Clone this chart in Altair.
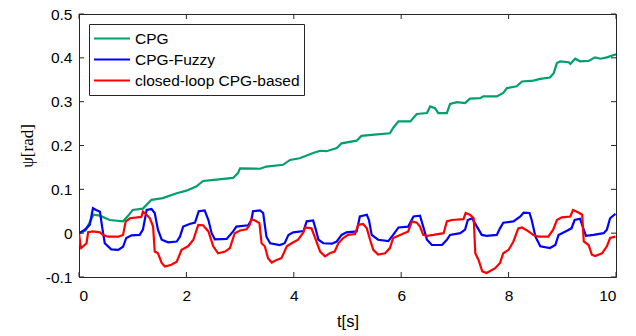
import altair as alt
import pandas as pd

# ---------------- data ----------------
series_names = ["CPG", "CPG-Fuzzy", "closed-loop CPG-based"]
series_colors = ["#00A06A", "#0000FF", "#FF0000"]

t_cpg = [0, 0.12, 0.22, 0.27, 0.39, 0.57, 0.82, 0.91, 1.0, 1.19,
         1.35, 1.56, 1.82, 2.0, 2.19, 2.31, 2.56, 2.87, 2.96, 3.0,
         3.37, 3.49, 3.80, 3.93, 4.11, 4.36, 4.49, 4.61, 4.80, 4.89,
         5.17, 5.26, 5.50, 5.79, 5.85, 5.95, 6.17, 6.29, 6.48, 6.54,
         6.63, 6.69, 6.85, 6.91, 7.04, 7.19, 7.28, 7.47, 7.53, 7.78,
         7.90, 7.97, 8.15, 8.25, 8.46, 8.59, 8.77, 8.84, 8.90, 8.96,
         9.12, 9.15, 9.24, 9.33, 9.49, 9.61, 9.71, 9.83, 10.0]
y_cpg = [0.0, 0.006, 0.03, 0.042, 0.040, 0.030, 0.027, 0.039, 0.053, 0.056,
         0.076, 0.080, 0.091, 0.097, 0.107, 0.119, 0.122, 0.126, 0.137, 0.148,
         0.147, 0.152, 0.156, 0.167, 0.171, 0.183, 0.188, 0.187, 0.194, 0.205,
         0.211, 0.222, 0.225, 0.228, 0.240, 0.255, 0.255, 0.272, 0.274, 0.289,
         0.285, 0.274, 0.274, 0.295, 0.299, 0.297, 0.307, 0.308, 0.312, 0.312,
         0.320, 0.331, 0.335, 0.346, 0.348, 0.352, 0.355, 0.365, 0.388, 0.392,
         0.390, 0.386, 0.398, 0.392, 0.393, 0.401, 0.398, 0.401, 0.408]

t_fuzzy = [0, 0.11, 0.20, 0.26, 0.32, 0.39, 0.43, 0.48, 0.60, 0.73,
           0.82, 0.88, 0.98, 1.13, 1.19, 1.26, 1.35, 1.41, 1.47, 1.54,
           1.66, 1.82, 1.88, 1.94, 2.06, 2.16, 2.23, 2.34, 2.41, 2.47,
           2.53, 2.75, 2.87, 2.93, 3.15, 3.21, 3.24, 3.37, 3.43, 3.49,
           3.56, 3.74, 3.83, 3.90, 3.99, 4.18, 4.24, 4.36, 4.41, 4.46,
           4.55, 4.71, 4.80, 4.89, 4.98, 5.17, 5.23, 5.36, 5.40, 5.45,
           5.57, 5.76, 5.85, 5.95, 6.13, 6.23, 6.35, 6.41, 6.48, 6.57,
           6.76, 6.85, 6.91, 7.10, 7.19, 7.24, 7.32, 7.41, 7.50, 7.59,
           7.78, 7.84, 7.90, 8.09, 8.22, 8.28, 8.39, 8.43, 8.50, 8.59,
           8.77, 8.87, 8.93, 9.06, 9.17, 9.23, 9.33, 9.38, 9.44, 9.58,
           9.77, 9.83, 9.89, 9.99]
y_fuzzy = [0.0, 0.008, 0.019, 0.057, 0.053, 0.049, 0.015, -0.023, -0.037, -0.038,
           -0.031, -0.011, -0.005, -0.004, 0.008, 0.053, 0.055, 0.046, 0.008, -0.015,
           -0.021, -0.019, -0.008, 0.015, 0.021, 0.024, 0.050, 0.052, 0.030, 0.0,
           -0.014, -0.013, 0.004, 0.015, 0.018, 0.030, 0.050, 0.052, 0.046, -0.008,
           -0.023, -0.027, -0.023, -0.004, 0.002, 0.005, 0.027, 0.029, 0.008, -0.015,
           -0.023, -0.024, -0.019, -0.004, 0.002, 0.004, 0.038, 0.042, 0.030, -0.004,
           -0.015, -0.018, -0.004, 0.013, 0.015, 0.038, 0.040, 0.015, -0.015, -0.027,
           -0.027, -0.015, -0.004, 0.0, 0.008, 0.030, 0.034, 0.015, -0.004, -0.006,
           -0.004, 0.011, 0.024, 0.027, 0.038, 0.047, 0.046, 0.030, -0.008, -0.030,
           -0.034, -0.027, -0.004, 0.004, 0.011, 0.030, 0.033, 0.015, -0.006, -0.004,
           0.0, 0.008, 0.034, 0.044]

t_closed = [0, 0.03, 0.04, 0.14, 0.17, 0.26, 0.39, 0.45, 0.54, 0.73,
            0.82, 0.87, 0.95, 1.16, 1.19, 1.26, 1.32, 1.38, 1.41, 1.47,
            1.54, 1.60, 1.72, 1.82, 1.91, 2.03, 2.13, 2.22, 2.31, 2.41,
            2.50, 2.59, 2.72, 2.81, 2.90, 3.00, 3.12, 3.18, 3.21, 3.28,
            3.36, 3.40, 3.46, 3.52, 3.59, 3.68, 3.77, 3.87, 3.96, 4.08,
            4.18, 4.21, 4.33, 4.41, 4.49, 4.58, 4.67, 4.76, 4.83, 4.92,
            5.01, 5.14, 5.20, 5.29, 5.36, 5.42, 5.48, 5.57, 5.70, 5.79,
            5.85, 5.98, 6.13, 6.20, 6.29, 6.35, 6.41, 6.48, 6.60, 6.79,
            6.85, 6.94, 7.16, 7.20, 7.28, 7.35, 7.38, 7.44, 7.51, 7.59,
            7.75, 7.84, 7.90, 8.00, 8.09, 8.18, 8.25, 8.37, 8.46, 8.56,
            8.74, 8.83, 8.90, 8.99, 9.15, 9.20, 9.30, 9.37, 9.40, 9.49,
            9.55, 9.61, 9.74, 9.83, 9.89, 9.99]
y_closed = [0.0, -0.03, -0.034, -0.023, 0.002, 0.004, 0.002, -0.004, -0.008, -0.008,
            -0.004, 0.027, 0.034, 0.037, 0.049, 0.042, 0.034, 0.015, -0.042, -0.046,
            -0.068, -0.076, -0.072, -0.065, -0.038, -0.030, -0.015, 0.019, 0.018, 0.004,
            -0.030, -0.046, -0.042, -0.034, 0.0, 0.006, 0.009, 0.019, 0.032, 0.029,
            0.023, -0.023, -0.030, -0.057, -0.067, -0.061, -0.057, -0.030, -0.023, -0.015,
            0.002, 0.013, 0.011, -0.015, -0.042, -0.053, -0.046, -0.042, -0.023, -0.011,
            -0.004, -0.002, 0.019, 0.021, 0.011, -0.015, -0.038, -0.049, -0.046, -0.034,
            -0.011, -0.004, 0.004, 0.027, 0.024, 0.015, -0.004, -0.006, -0.004, 0.0,
            0.027, 0.030, 0.032, 0.046, 0.042, 0.034, -0.046, -0.061, -0.087, -0.091,
            -0.080, -0.068, -0.046, -0.038, -0.019, 0.011, 0.013, 0.004, -0.004, -0.008,
            -0.008, 0.008, 0.030, 0.036, 0.038, 0.053, 0.047, 0.042, -0.019, -0.027,
            -0.049, -0.052, -0.046, -0.030, -0.011, -0.008]

x_ticks = [0, 2, 4, 6, 8, 10]
y_ticks = [-0.1, 0, 0.1, 0.2, 0.3, 0.4, 0.5]

# ---------------- build tables ----------------
rows = []
for k, (name, ts, ys) in enumerate(zip(series_names,
                                       [t_cpg, t_fuzzy, t_closed],
                                       [y_cpg, y_fuzzy, y_closed])):
    for t, y in zip(ts, ys):
        rows.append({"t": t, "psi": y, "series": name, "k": k})
df = pd.DataFrame(rows)
xt = pd.DataFrame({"v": x_ticks})
yt = pd.DataFrame({"v": y_ticks})

W, H = 537, 263
TICK = 5
FRAME = "#262626"
FONT = "Liberation Sans"
FS = 15.5

x_scale = alt.Scale(domain=[0, 10], nice=False, zero=False)
y_scale = alt.Scale(domain=[-0.1, 0.5], nice=False, zero=False)

lines = alt.Chart(df).mark_line(strokeWidth=2.2, clip=True).encode(
    x=alt.X("t:Q", scale=x_scale,
            axis=alt.Axis(values=x_ticks, title="t[s]", grid=False, domain=False,
                          ticks=False, labelPadding=11, labelFont=FONT,
                          labelFontSize=FS, labelColor="#000000",
                          titleFont=FONT, titleFontSize=16.5,
                          titleFontWeight="normal", titleColor="#000000",
                          titlePadding=10)),
    y=alt.Y("psi:Q", scale=y_scale,
            axis=alt.Axis(values=y_ticks, title="ψ[rad]", grid=False, domain=False,
                          ticks=False, labelPadding=7, labelFont=FONT,
                          labelFontSize=FS, labelColor="#000000",
                          labelExpr="datum.value == 0 ? '0' : replace(datum.label, '−', '-')",
                          titleFont="Liberation Serif", titleFontSize=17,
                          titleFontWeight="normal", titleColor="#000000",
                          titleX=-52, titleY=H / 2, titleBaseline="middle")),
    color=alt.Color("series:N",
                    scale=alt.Scale(domain=series_names, range=series_colors),
                    sort=series_names,
                    legend=alt.Legend(title=None, orient="none", legendX=10, legendY=10,
                                      symbolType="stroke", symbolSize=1296,
                                      symbolStrokeWidth=2, clipHeight=21,
                                      rowPadding=0, labelFont=FONT, labelFontSize=FS,
                                      labelColor="#000000", labelOffset=4,
                                      labelLimit=400,
                                      padding=4, fillColor="#FFFFFF",
                                      strokeColor=FRAME)),
    detail="k:O",
)

tick_style = dict(color=FRAME, strokeWidth=1)
x_bottom = alt.Chart(xt).mark_rule(**tick_style).encode(
    x=alt.X("v:Q", scale=x_scale), y=alt.value(H), y2=alt.value(H - TICK))
x_top = alt.Chart(xt).mark_rule(**tick_style).encode(
    x=alt.X("v:Q", scale=x_scale), y=alt.value(0), y2=alt.value(TICK))
y_left = alt.Chart(yt).mark_rule(**tick_style).encode(
    y=alt.Y("v:Q", scale=y_scale), x=alt.value(0), x2=alt.value(TICK))
y_right = alt.Chart(yt).mark_rule(**tick_style).encode(
    y=alt.Y("v:Q", scale=y_scale), x=alt.value(W - TICK), x2=alt.value(W))

chart = alt.layer(lines, x_bottom, x_top, y_left, y_right).properties(
    width=W, height=H,
    autosize=alt.AutoSizeParams(type="none"),
    padding={"left": 79, "top": 14, "right": 20, "bottom": 59},
    background="#FFFFFF",
).configure_view(stroke=FRAME, strokeWidth=1)

chart.save("out.html", embed_options={"renderer": "svg", "actions": False})
